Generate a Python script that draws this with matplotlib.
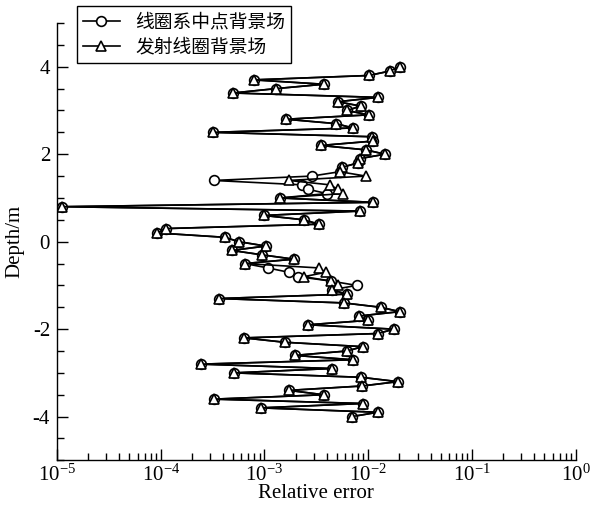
import matplotlib
matplotlib.use("Agg")
import matplotlib.pyplot as plt
from matplotlib.ticker import MultipleLocator, LogLocator, NullFormatter

plt.rcParams['font.family'] = ['Liberation Serif', 'Noto Sans CJK SC']
plt.rcParams['mathtext.fontset'] = 'custom'
plt.rcParams['mathtext.rm'] = 'Liberation Serif'
plt.rcParams['mathtext.it'] = 'Liberation Serif:italic'
plt.rcParams['axes.unicode_minus'] = False

depth = [4.0, 3.9, 3.8, 3.7, 3.6, 3.5, 3.4, 3.3, 3.2, 3.1,
         3.0, 2.9, 2.8, 2.7, 2.6, 2.5, 2.4, 2.3, 2.2, 2.1,
         2.0, 1.9, 1.8, 1.7, 1.6, 1.5, 1.4, 1.3, 1.2, 1.1,
         1.0, 0.9, 0.8, 0.7, 0.6, 0.5, 0.4, 0.3, 0.2, 0.1,
         0.0, -0.1, -0.2, -0.3, -0.4, -0.5, -0.6, -0.7, -0.8, -0.9,
         -1.0, -1.1, -1.2, -1.3, -1.4, -1.5, -1.6, -1.7, -1.8, -1.9,
         -2.0, -2.1, -2.2, -2.3, -2.4, -2.5, -2.6, -2.7, -2.8, -2.9,
         -3.0, -3.1, -3.2, -3.3, -3.4, -3.5, -3.6, -3.7, -3.8, -3.9,
         -4.0]

# 线圈系中点背景场 (circles)
err_mid = [2.01e-2, 1.61e-2, 1.01e-2, 7.9e-4, 3.73e-3, 1.29e-3, 4.97e-4, 1.24e-2, 5.09e-3, 8.49e-3,
           6.22e-3, 1.01e-2, 1.61e-3, 4.88e-3, 7.11e-3, 3.18e-4, 1.08e-2, 1.11e-2, 3.49e-3, 9.48e-3,
           1.45e-2, 8.30e-3, 7.94e-3, 5.57e-3, 5.32e-3, 2.86e-3, 3.26e-4, 2.29e-3, 2.62e-3, 3.99e-3,
           1.41e-3, 1.11e-2, 1.12e-5, 8.30e-3, 9.86e-4, 2.40e-3, 3.34e-3, 1.12e-4, 9.18e-5, 4.15e-4,
           5.66e-4, 1.03e-3, 4.85e-4, 9.44e-4, 1.92e-3, 6.47e-4, 1.08e-3, 1.72e-3, 2.10e-3, 4.37e-3,
           7.76e-3, 4.46e-3, 6.22e-3, 3.64e-4, 5.82e-3, 1.32e-2, 2.01e-2, 8.11e-3, 9.91e-3, 2.62e-3,
           1.77e-2, 1.24e-2, 6.34e-4, 1.57e-3, 8.87e-3, 6.22e-3, 1.96e-3, 7.11e-3, 2.44e-4, 4.46e-3,
           5.07e-4, 8.49e-3, 1.93e-2, 8.67e-3, 1.72e-3, 3.73e-3, 3.26e-4, 8.87e-3, 9.22e-4, 1.24e-2,
           6.95e-3]

# 发射线圈背景场 (triangles)
err_tx = [2.01e-2, 1.61e-2, 1.01e-2, 7.9e-4, 3.73e-3, 1.29e-3, 4.97e-4, 1.24e-2, 5.09e-3, 8.49e-3,
          6.22e-3, 1.01e-2, 1.61e-3, 4.88e-3, 7.11e-3, 3.18e-4, 1.08e-2, 1.11e-2, 3.49e-3, 9.48e-3,
          1.45e-2, 8.30e-3, 7.94e-3, 5.57e-3, 5.32e-3, 9.48e-3, 1.72e-3, 4.27e-3, 5.09e-3, 5.69e-3,
          1.41e-3, 1.11e-2, 1.12e-5, 8.30e-3, 9.86e-4, 2.40e-3, 3.34e-3, 1.12e-4, 9.18e-5, 4.15e-4,
          5.66e-4, 1.03e-3, 4.85e-4, 9.44e-4, 1.92e-3, 6.47e-4, 3.34e-3, 3.91e-3, 2.40e-3, 4.37e-3,
          5.09e-3, 4.46e-3, 6.22e-3, 3.64e-4, 5.82e-3, 1.32e-2, 2.01e-2, 8.11e-3, 9.91e-3, 2.62e-3,
          1.77e-2, 1.24e-2, 6.34e-4, 1.57e-3, 8.87e-3, 6.22e-3, 1.96e-3, 7.11e-3, 2.44e-4, 4.46e-3,
          5.07e-4, 8.49e-3, 1.93e-2, 8.67e-3, 1.72e-3, 3.73e-3, 3.26e-4, 8.87e-3, 9.22e-4, 1.24e-2,
          6.95e-3]

labels = ['线圈系中点背景场', '发射线圈背景场']

fig = plt.figure(figsize=(6.01, 5.07), dpi=100)
ax = fig.add_axes([0.0948, 0.092, 0.863, 0.8626])

ax.plot(err_mid, depth, '-o', color='black', lw=1.2, ms=7, mfc='white', mec='black',
        mew=1.2, label=labels[0])
ax.plot(err_tx, depth, '-^', color='black', lw=1.2, ms=7.5, mfc='white', mec='black',
        mew=1.2, label=labels[1])

ax.set_xscale('log')
ax.set_xlim(1e-5, 1)
ax.set_ylim(-5, 5)
ax.yaxis.set_major_locator(MultipleLocator(2))
ax.yaxis.set_minor_locator(MultipleLocator(0.5))
ax.xaxis.set_major_locator(LogLocator(base=10, numticks=10))
ax.xaxis.set_minor_locator(LogLocator(base=10, subs=range(2, 10), numticks=20))
ax.xaxis.set_minor_formatter(NullFormatter())

ax.spines['top'].set_visible(False)
ax.spines['right'].set_visible(False)
for s in ['left', 'bottom']:
    ax.spines[s].set_linewidth(1.0)
ax.tick_params(which='both', direction='in', top=False, right=False, labelsize=15)
ax.tick_params(which='major', length=8, width=1)
ax.tick_params(axis='x', which='major', pad=3)
ax.tick_params(axis='y', which='major', pad=5)
ax.tick_params(which='minor', length=5, width=1)

ax.set_xlabel('Relative error', fontsize=15, labelpad=-1)
ax.set_ylabel('Depth/m', fontsize=15, labelpad=6)

leg = ax.legend(loc='upper left', bbox_to_anchor=(77 / 601, 1 - 6 / 507),
                bbox_transform=fig.transFigure, fancybox=False, edgecolor='black',
                framealpha=1, prop={'family': ['Noto Sans CJK SC'], 'size': 13.5},
                handlelength=2.0, borderaxespad=0, borderpad=0.3, labelspacing=0.2,
                handletextpad=0.8)
leg.get_frame().set_linewidth(1.0)

fig.savefig('out.png', dpi=100)
